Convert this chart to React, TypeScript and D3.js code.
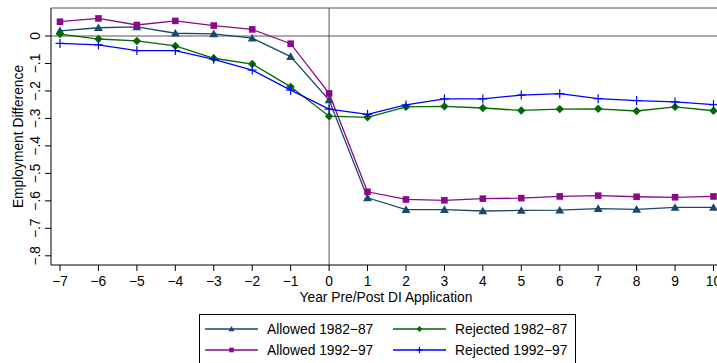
import React from "react";
import * as d3 from "d3";

const years = [-7, -6, -5, -4, -3, -2, -1, 0, 1, 2, 3, 4, 5, 6, 7, 8, 9, 10];
const allowed8287 = [0.019, 0.030, 0.033, 0.010, 0.008, -0.008, -0.075, -0.233, -0.589, -0.632, -0.632, -0.637, -0.635, -0.634, -0.628, -0.631, -0.624, -0.624];
const allowed9297 = [0.052, 0.064, 0.040, 0.055, 0.038, 0.024, -0.028, -0.209, -0.567, -0.595, -0.598, -0.592, -0.590, -0.584, -0.581, -0.585, -0.587, -0.584];
const rejected8287 = [0.007, -0.011, -0.018, -0.036, -0.081, -0.102, -0.185, -0.292, -0.296, -0.258, -0.256, -0.262, -0.271, -0.266, -0.265, -0.273, -0.258, -0.272];
const rejected9297 = [-0.027, -0.032, -0.053, -0.053, -0.085, -0.124, -0.197, -0.266, -0.285, -0.251, -0.229, -0.229, -0.215, -0.210, -0.228, -0.235, -0.240, -0.250];
const yTicks = [0, -0.1, -0.2, -0.3, -0.4, -0.5, -0.6, -0.7, -0.8];

const seriesList = [
  { name: "Allowed 1982\u221287", values: allowed8287, color: "#1a476f", marker: "triangle" },
  { name: "Allowed 1992\u221297", values: allowed9297, color: "#8b0a8b", marker: "square" },
  { name: "Rejected 1982\u221287", values: rejected8287, color: "#006a00", marker: "diamond" },
  { name: "Rejected 1992\u221297", values: rejected9297, color: "#0000ff", marker: "plus" },
];

const W = 717, H = 363;
const L = 51, R = 722, T = 8, B = 265;
const FONT = "'Liberation Sans', Arial, sans-serif";
const FS = 13.8;

function fmtY(v: number) {
  if (v === 0) return "0";
  const s = Math.abs(v).toFixed(1).replace(/^0/, "");
  return (v < 0 ? "\u2212" : "") + s;
}
function fmtX(v: number) {
  return (v < 0 ? "\u2212" : "") + Math.abs(v);
}

function Marker({ type, x, y, color, k = 1 }: { type: string; x: number; y: number; color: string; k?: number }) {
  if (type === "triangle") {
    const p = d3.symbol(d3.symbolTriangle, 34 * k * k)();
    return <path d={p || ""} transform={`translate(${x},${y + 0.8 * k})`} fill={color} />;
  }
  if (type === "square") {
    const s = 3.3 * k;
    return <rect x={x - s} y={y - s} width={2 * s} height={2 * s} fill={color} />;
  }
  if (type === "diamond") {
    const s = 4.2 * k;
    return <path d={`M${x},${y - s}L${x + s},${y}L${x},${y + s}L${x - s},${y}Z`} fill={color} />;
  }
  const s = 4.5 * k;
  return (
    <g stroke={color} strokeWidth={1.2}>
      <line x1={x - s} x2={x + s} y1={y} y2={y} />
      <line x1={x} x2={x} y1={y - s} y2={y + s} />
    </g>
  );
}

export default function App() {
  const x = d3.scaleLinear().domain([-7, 10]).range([60, 713.5]);
  const y = d3.scaleLinear().domain([0, -0.8]).range([36, 255.8]);
  const line = d3
    .line<number>()
    .x((_, i) => x(years[i]))
    .y((d) => y(d));

  const legendItems = [
    { s: seriesList[0], lx: 205, ty: 329 },
    { s: seriesList[2], lx: 393, ty: 329 },
    { s: seriesList[1], lx: 205, ty: 350 },
    { s: seriesList[3], lx: 393, ty: 350 },
  ];

  return (
    <svg
      width={W}
      height={H}
      style={{ position: "absolute", left: 0, top: 0, background: "#fff" }}
      fontFamily={FONT}
    >
      <rect x={0} y={0} width={W} height={H} fill="#fff" />
      <line x1={L} x2={R} y1={T} y2={T} stroke="#555" strokeWidth={1} />
      <line x1={L} x2={R} y1={y(0)} y2={y(0)} stroke="#555" strokeWidth={1} />
      <line x1={x(0)} x2={x(0)} y1={T} y2={B} stroke="#555" strokeWidth={1} />
      {seriesList.map((s) => (
        <g key={s.name}>
          <path d={line(s.values) || ""} fill="none" stroke={s.color} strokeWidth={1.3} />
          {s.values.map((v, i) => (
            <Marker key={i} type={s.marker} x={x(years[i])} y={y(v)} color={s.color} />
          ))}
        </g>
      ))}
      <line x1={L} x2={L} y1={T} y2={B} stroke="#000" strokeWidth={1} />
      <line x1={L} x2={R} y1={B} y2={B} stroke="#000" strokeWidth={1} />
      {years.map((t) => (
        <g key={t}>
          <line x1={x(t)} x2={x(t)} y1={B} y2={B + 6} stroke="#000" />
          <text x={x(t)} y={285.5} textAnchor="middle" fontSize={FS} fill="#000">
            {fmtX(t)}
          </text>
        </g>
      ))}
      {yTicks.map((t) => (
        <g key={t}>
          <line x1={L - 6} x2={L} y1={y(t)} y2={y(t)} stroke="#000" />
          <text
            transform={`translate(40,${y(t)}) rotate(-90)`}
            textAnchor="middle"
            fontSize={FS}
            fill="#000"
          >
            {fmtY(t)}
          </text>
        </g>
      ))}
      <text x={386} y={301.5} textAnchor="middle" fontSize={FS} fill="#000">
        Year Pre/Post DI Application
      </text>
      <text
        transform={`translate(23,${(T + B) / 2}) rotate(-90)`}
        textAnchor="middle"
        fontSize={FS}
        fill="#000"
      >
        Employment Difference
      </text>
      <rect x={199.5} y={314.5} width={376} height={60} fill="#fff" stroke="#000" strokeWidth={1} />
      {legendItems.map(({ s, lx, ty }) => (
        <g key={s.name}>
          <line x1={lx} x2={lx + 53} y1={ty} y2={ty} stroke={s.color} strokeWidth={1.3} />
          <Marker type={s.marker} x={lx + 26.5} y={ty} color={s.color} k={0.7} />
          <text x={lx + 62} y={ty + 5} fontSize={FS} fill="#000">
            {s.name}
          </text>
        </g>
      ))}
    </svg>
  );
}
